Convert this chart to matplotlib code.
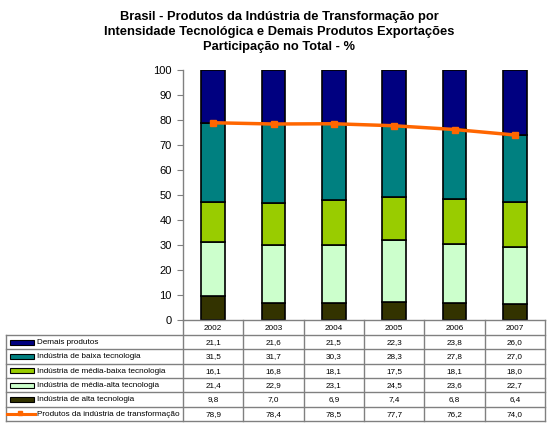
import matplotlib
matplotlib.use("Agg")
import matplotlib.pyplot as plt
from matplotlib.patches import Rectangle
from matplotlib.lines import Line2D

years = ["2002", "2003", "2004", "2005", "2006", "2007"]
alta = [9.8, 7.0, 6.9, 7.4, 6.8, 6.4]
media_alta = [21.4, 22.9, 23.1, 24.5, 23.6, 22.7]
media_baixa = [16.1, 16.8, 18.1, 17.5, 18.1, 18.0]
baixa = [31.5, 31.7, 30.3, 28.3, 27.8, 27.0]
demais = [21.1, 21.6, 21.5, 22.3, 23.8, 26.0]
transformacao = [78.9, 78.4, 78.5, 77.7, 76.2, 74.0]

labels = ["Demais produtos", "Indústria de baixa tecnologia",
          "Indústria de média-baixa tecnologia", "Indústria de média-alta tecnologia",
          "Indústria de alta tecnologia", "Produtos da indústria de transformação"]
colors = ["#000080", "#008080", "#99CC00", "#CCFFCC", "#333300"]
line_color = "#FF6600"

plt.rcParams['font.family'] = ['Liberation Sans', 'DejaVu Sans']

W, H = 550, 425
fig = plt.figure(figsize=(5.5, 4.25), dpi=100)
fig.patch.set_facecolor("white")

x0, x1, ytop, ybot = 183, 545, 70, 320
ax = fig.add_axes([x0 / W, 1 - ybot / H, (x1 - x0) / W, (ybot - ytop) / H])
xs = list(range(len(years)))
bw = 0.39
stack = [alta, media_alta, media_baixa, baixa, demais]
stack_colors = [colors[4], colors[3], colors[2], colors[1], colors[0]]
bottom = [0.0] * len(years)
for vals, c in zip(stack, stack_colors):
    ax.bar(xs, vals, bw, bottom=bottom, color=c, edgecolor="black", linewidth=1.2, zorder=2)
    bottom = [b + v for b, v in zip(bottom, vals)]
ax.plot(xs, transformacao, color=line_color, linewidth=2.5, marker="s", markersize=5, zorder=3)
ax.set_xlim(-0.5, 5.5)
ax.set_ylim(0, 100)
ax.set_yticks(range(0, 101, 10))
ax.set_xticks([])
ax.tick_params(axis="y", labelsize=8, length=4, color="#808080", pad=4)
for s in ["top", "right"]:
    ax.spines[s].set_visible(False)
for s in ["left", "bottom"]:
    ax.spines[s].set_color("#808080")
    ax.spines[s].set_linewidth(1)

# title
fig.text(279 / W, 1 - 11 / H, "Brasil - Produtos da Indústria de Transformação por\n"
         "Intensidade Tecnológica e Demais Produtos Exportações\nParticipação no Total - %",
         ha="center", va="top", fontsize=9.3, fontweight="bold", linespacing=1.36)

# table
tax = fig.add_axes([0, 0, 1, 1])
tax.set_xlim(0, W)
tax.set_ylim(H, 0)
tax.axis("off")
gray = "#808080"
colw = (x1 - x0) / 6
row_top = 335
rh = 14.3
nrows = 6
tbot = row_top + nrows * rh
tax.add_line(Line2D([x0, x0], [ybot, tbot], color=gray, lw=1))
for k in range(1, 7):
    xx = x0 + k * colw
    tax.add_line(Line2D([xx, xx], [ybot, tbot], color=gray, lw=1))
tax.add_line(Line2D([6, 6], [row_top, tbot], color=gray, lw=1))
for r in range(nrows + 1):
    yy = row_top + r * rh
    tax.add_line(Line2D([6, x1], [yy, yy], color=gray, lw=1))
fs = 5.9
for k, yr in enumerate(years):
    tax.text(x0 + (k + 0.5) * colw, (ybot + row_top) / 2 + 0.5, yr, ha="center", va="center", fontsize=fs)

rows_data = [demais, baixa, media_baixa, media_alta, alta, transformacao]
for r, (lab, vals) in enumerate(zip(labels, rows_data)):
    yc = row_top + (r + 0.5) * rh
    if r < 5:
        tax.add_patch(Rectangle((9.5, yc - 2.5), 24, 5, facecolor=colors[r], edgecolor="black", lw=0.8))
    else:
        tax.add_line(Line2D([7, 35], [yc, yc], color=line_color, lw=2.2))
        tax.add_line(Line2D([20], [yc - 1], color=line_color, marker="s", markersize=2.5))
    tax.text(37, yc + 0.5, lab, ha="left", va="center", fontsize=fs)
    for k, v in enumerate(vals):
        tax.text(x0 + (k + 0.5) * colw, yc + 0.5, f"{v:.1f}".replace(".", ","),
                 ha="center", va="center", fontsize=fs)

fig.savefig("out.png", dpi=100, facecolor="white")
